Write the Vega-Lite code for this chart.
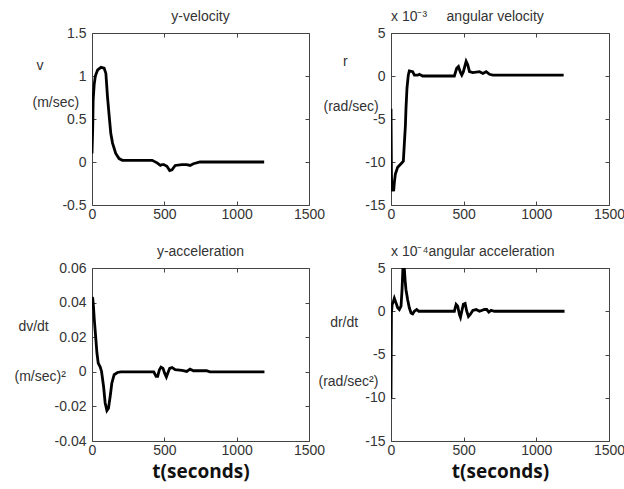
{
  "$schema": "https://vega.github.io/schema/vega-lite/v6.json",
  "background": "white",
  "autosize": {"type": "pad"},
  "padding": {"left": 13, "top": 9, "right": 0, "bottom": 0},
  "config": {
    "font": "Liberation Sans",
    "view": {"stroke": "#444", "strokeWidth": 1},
    "axis": {
      "grid": false, "domain": false, "tickSize": -4, "tickColor": "#444", "labelFlush": false,
      "labelFont": "Liberation Sans", "labelFontSize": 14, "labelColor": "#333", "labelPadding": 10,
      "titleFont": "Liberation Sans", "titleFontSize": 14, "titleFontWeight": "normal", "titleColor": "#333"
    },
    "axisX": {"labelPadding": 6, "labelFlush": false},
    "axisY": {"labelFlush": false},
    "title": {"font": "Liberation Sans", "fontSize": 14, "fontWeight": "normal", "color": "#333", "baseline": "alphabetic", "offset": 2, "frame": "group"}
  },
  "datasets": {
    "vel": [
      {"t": 0, "value": 0.1}, {"t": 5, "value": 0.4}, {"t": 8, "value": 0.72}, {"t": 15, "value": 0.9}, {"t": 23, "value": 1.0},
      {"t": 39, "value": 1.07}, {"t": 62, "value": 1.1}, {"t": 84, "value": 1.09}, {"t": 96, "value": 1.03}, {"t": 107, "value": 0.76},
      {"t": 119, "value": 0.53}, {"t": 130, "value": 0.33}, {"t": 142, "value": 0.22}, {"t": 164, "value": 0.1}, {"t": 187, "value": 0.04},
      {"t": 210, "value": 0.02}, {"t": 416, "value": 0.02}, {"t": 450, "value": -0.01}, {"t": 473, "value": -0.04}, {"t": 485, "value": -0.03},
      {"t": 496, "value": -0.03}, {"t": 518, "value": -0.05}, {"t": 537, "value": -0.1}, {"t": 553, "value": -0.09}, {"t": 575, "value": -0.04},
      {"t": 621, "value": -0.03}, {"t": 655, "value": -0.03}, {"t": 678, "value": -0.04}, {"t": 701, "value": -0.02}, {"t": 747, "value": 0.0},
      {"t": 1190, "value": 0.0}
    ],
    "angvel": [
      {"t": 0, "value": -3.8}, {"t": 3, "value": -11.4}, {"t": 6, "value": -13.4}, {"t": 12, "value": -13.0}, {"t": 18, "value": -13.4},
      {"t": 23, "value": -12.4}, {"t": 30, "value": -11.4}, {"t": 46, "value": -10.6}, {"t": 69, "value": -10.2}, {"t": 85, "value": -9.9},
      {"t": 92, "value": -7.8}, {"t": 99, "value": -5.8}, {"t": 103, "value": -3.8}, {"t": 110, "value": -1.4}, {"t": 119, "value": 0.1},
      {"t": 126, "value": 0.6}, {"t": 149, "value": 0.5}, {"t": 161, "value": 0.1}, {"t": 184, "value": 0.1}, {"t": 195, "value": 0.2},
      {"t": 218, "value": 0}, {"t": 436, "value": 0}, {"t": 452, "value": 0.9}, {"t": 464, "value": 1.1}, {"t": 478, "value": 0.4},
      {"t": 487, "value": 0.1}, {"t": 498, "value": 0.5}, {"t": 517, "value": 1.7}, {"t": 528, "value": 1.3}, {"t": 540, "value": 0.5},
      {"t": 563, "value": 0.4}, {"t": 609, "value": 0.5}, {"t": 632, "value": 0.3}, {"t": 655, "value": 0.5}, {"t": 678, "value": 0.2},
      {"t": 701, "value": 0.1}, {"t": 1188, "value": 0.1}
    ],
    "acc": [
      {"t": 0, "value": 0.043}, {"t": 5, "value": 0.0426}, {"t": 10, "value": 0.0378}, {"t": 16, "value": 0.03}, {"t": 20, "value": 0.026},
      {"t": 27, "value": 0.0185}, {"t": 34, "value": 0.011}, {"t": 43, "value": 0.005}, {"t": 57, "value": 0.0027}, {"t": 66, "value": 0.0002},
      {"t": 80, "value": -0.0085}, {"t": 91, "value": -0.018}, {"t": 103, "value": -0.0224}, {"t": 114, "value": -0.021}, {"t": 126, "value": -0.014},
      {"t": 137, "value": -0.0066}, {"t": 153, "value": -0.0017}, {"t": 176, "value": -0.0004}, {"t": 199, "value": 0}, {"t": 427, "value": 0},
      {"t": 443, "value": -0.0027}, {"t": 454, "value": -0.0027}, {"t": 466, "value": 0.0012}, {"t": 477, "value": 0.0027}, {"t": 491, "value": 0.002},
      {"t": 502, "value": -0.0008}, {"t": 514, "value": -0.003}, {"t": 525, "value": -0.0005}, {"t": 537, "value": 0.002}, {"t": 553, "value": 0.0025},
      {"t": 575, "value": 0.0012}, {"t": 621, "value": 0.0008}, {"t": 655, "value": 0.0002}, {"t": 678, "value": 0.0015}, {"t": 701, "value": 0.0006},
      {"t": 792, "value": 0.0006}, {"t": 815, "value": 0}, {"t": 1192, "value": 0}
    ],
    "angacc": [
      {"t": 0, "value": -10.1}, {"t": 1, "value": -6.0}, {"t": 3, "value": -0.2}, {"t": 8, "value": 0.8}, {"t": 16, "value": 1.1},
      {"t": 23, "value": 1.5}, {"t": 34, "value": 1.0}, {"t": 46, "value": 0.4}, {"t": 57, "value": 0.2}, {"t": 69, "value": 0.6},
      {"t": 76, "value": 2.5}, {"t": 83, "value": 5.4}, {"t": 90, "value": 5.4}, {"t": 97, "value": 3.6}, {"t": 103, "value": 2.5},
      {"t": 115, "value": 1.3}, {"t": 126, "value": 0.4}, {"t": 138, "value": -0.2}, {"t": 149, "value": -0.3}, {"t": 161, "value": 0},
      {"t": 177, "value": 0.2}, {"t": 191, "value": 0}, {"t": 436, "value": 0}, {"t": 448, "value": 0.8}, {"t": 459, "value": 0.6},
      {"t": 471, "value": -0.4}, {"t": 478, "value": -0.7}, {"t": 487, "value": 0}, {"t": 498, "value": 0.8}, {"t": 510, "value": 0.9},
      {"t": 521, "value": 0}, {"t": 533, "value": -0.6}, {"t": 544, "value": -0.4}, {"t": 563, "value": 0.1}, {"t": 586, "value": 0.2},
      {"t": 609, "value": 0}, {"t": 643, "value": 0.2}, {"t": 659, "value": 0.2}, {"t": 673, "value": -0.1}, {"t": 689, "value": 0.1},
      {"t": 712, "value": 0}, {"t": 1194, "value": 0}
    ]
  },
  "columns": 2,
  "spacing": {"row": 63, "column": 82},
  "bounds": "flush",
  "concat": [
    {
      "width": 217, "height": 172,
      "data": {"name": "vel"},
      "title": {"text": "y-velocity", "anchor": "middle"},
      "layer": [
        {
          "mark": {"type": "line", "color": "black", "strokeWidth": 2.8, "clip": true},
          "encoding": {
            "x": {"field": "t", "type": "quantitative", "scale": {"domain": [0, 1500], "nice": false, "zero": false},
                  "axis": {"orient": "bottom", "values": [0, 500, 1000, 1500], "title": null, "labelExpr": "datum.value + ''"}},
            "y": {"field": "value", "type": "quantitative", "scale": {"domain": [-0.5, 1.5], "nice": false, "zero": false},
                  "axis": {"orient": "left", "values": [-0.5, 0, 0.5, 1, 1.5], "labelExpr": "datum.value + ''",
                           "title": ["\u200b\u00a0v", "(m/sec)"], "titleAngle": 0, "titleAlign": "left", "titleBaseline": "alphabetic",
                           "titleX": -60, "titleY": 36, "titleLineHeight": 37}}
          }
        },
        {
          "mark": {"type": "line", "strokeOpacity": 0, "clip": true},
          "encoding": {
            "x": {"field": "t", "type": "quantitative", "scale": {"domain": [0, 1500], "nice": false, "zero": false}, "axis": {"orient": "top", "values": [0, 500, 1000, 1500], "labels": false, "title": null}},
            "y": {"field": "value", "type": "quantitative", "scale": {"domain": [-0.5, 1.5], "nice": false, "zero": false}, "axis": {"orient": "right", "values": [-0.5, 0, 0.5, 1, 1.5], "labels": false, "title": null}}
          }
        }
      ],
      "resolve": {"axis": {"x": "independent", "y": "independent"}}
    },
    {
      "width": 218, "height": 172,
      "data": {"name": "angvel"},
      "title": {"text": "x 10\u207b\u00b3\u00a0\u00a0\u00a0\u00a0\u00a0angular velocity", "anchor": "start"},
      "layer": [
        {
          "mark": {"type": "line", "color": "black", "strokeWidth": 2.8, "clip": true},
          "encoding": {
            "x": {"field": "t", "type": "quantitative", "scale": {"domain": [0, 1500], "nice": false, "zero": false},
                  "axis": {"orient": "bottom", "values": [0, 500, 1000, 1500], "title": null, "labelExpr": "datum.value + ''"}},
            "y": {"field": "value", "type": "quantitative", "scale": {"domain": [-15, 5], "nice": false, "zero": false},
                  "axis": {"orient": "left", "values": [-15, -10, -5, 0, 5], "labelExpr": "datum.value + ''",
                           "title": ["\u200b\u00a0\u00a0\u00a0\u00a0\u00a0r", "(rad/sec)"], "titleAngle": 0, "titleAlign": "left", "titleBaseline": "alphabetic",
                           "titleX": -68, "titleY": 32, "titleLineHeight": 45}}
          }
        },
        {
          "mark": {"type": "line", "strokeOpacity": 0, "clip": true},
          "encoding": {
            "x": {"field": "t", "type": "quantitative", "scale": {"domain": [0, 1500], "nice": false, "zero": false}, "axis": {"orient": "top", "values": [0, 500, 1000, 1500], "labels": false, "title": null}},
            "y": {"field": "value", "type": "quantitative", "scale": {"domain": [-15, 5], "nice": false, "zero": false}, "axis": {"orient": "right", "values": [-15, -10, -5, 0, 5], "labels": false, "title": null}}
          }
        }
      ],
      "resolve": {"axis": {"x": "independent", "y": "independent"}}
    },
    {
      "width": 217, "height": 173,
      "data": {"name": "acc"},
      "title": {"text": "y-acceleration", "anchor": "middle"},
      "layer": [
        {
          "mark": {"type": "line", "color": "black", "strokeWidth": 2.8, "clip": true},
          "encoding": {
            "x": {"field": "t", "type": "quantitative", "scale": {"domain": [0, 1500], "nice": false, "zero": false},
                  "axis": {"orient": "bottom", "values": [0, 500, 1000, 1500], "labelExpr": "datum.value + ''",
                           "title": "t(seconds)", "titleFont": "Open Sans", "titleFontSize": 19, "titleFontWeight": "bold", "titleColor": "#111", "titlePadding": 5}},
            "y": {"field": "value", "type": "quantitative", "scale": {"domain": [-0.04, 0.06], "nice": false, "zero": false},
                  "axis": {"orient": "left", "values": [-0.04, -0.02, 0, 0.02, 0.04, 0.06], "labelExpr": "datum.value + ''",
                           "title": ["\u200b\u00a0dv/dt", "(m/sec)\u00b2"], "titleAngle": 0, "titleAlign": "left", "titleBaseline": "alphabetic",
                           "titleX": -78, "titleY": 62, "titleLineHeight": 50}}
          }
        },
        {
          "mark": {"type": "line", "strokeOpacity": 0, "clip": true},
          "encoding": {
            "x": {"field": "t", "type": "quantitative", "scale": {"domain": [0, 1500], "nice": false, "zero": false}, "axis": {"orient": "top", "values": [0, 500, 1000, 1500], "labels": false, "title": null}},
            "y": {"field": "value", "type": "quantitative", "scale": {"domain": [-0.04, 0.06], "nice": false, "zero": false}, "axis": {"orient": "right", "values": [-0.04, -0.02, 0, 0.02, 0.04, 0.06], "labels": false, "title": null}}
          }
        }
      ],
      "resolve": {"axis": {"x": "independent", "y": "independent"}}
    },
    {
      "width": 218, "height": 173,
      "data": {"name": "angacc"},
      "title": {"text": "x 10\u207b\u2074angular acceleration", "anchor": "start"},
      "layer": [
        {
          "mark": {"type": "line", "color": "black", "strokeWidth": 2.8, "clip": true},
          "encoding": {
            "x": {"field": "t", "type": "quantitative", "scale": {"domain": [0, 1500], "nice": false, "zero": false},
                  "axis": {"orient": "bottom", "values": [0, 500, 1000, 1500], "labelExpr": "datum.value + ''",
                           "title": "t(seconds)", "titleFont": "Open Sans", "titleFontSize": 19, "titleFontWeight": "bold", "titleColor": "#111", "titlePadding": 5}},
            "y": {"field": "value", "type": "quantitative", "scale": {"domain": [-15, 5], "nice": false, "zero": false},
                  "axis": {"orient": "left", "values": [-15, -10, -5, 0, 5], "labelExpr": "datum.value + ''",
                           "title": ["\u200b\u00a0\u00a0\u00a0dr/dt", "(rad/sec\u00b2)"], "titleAngle": 0, "titleAlign": "left", "titleBaseline": "alphabetic",
                           "titleX": -73, "titleY": 58, "titleLineHeight": 59}}
          }
        },
        {
          "mark": {"type": "line", "strokeOpacity": 0, "clip": true},
          "encoding": {
            "x": {"field": "t", "type": "quantitative", "scale": {"domain": [0, 1500], "nice": false, "zero": false}, "axis": {"orient": "top", "values": [0, 500, 1000, 1500], "labels": false, "title": null}},
            "y": {"field": "value", "type": "quantitative", "scale": {"domain": [-15, 5], "nice": false, "zero": false}, "axis": {"orient": "right", "values": [-15, -10, -5, 0, 5], "labels": false, "title": null}}
          }
        }
      ],
      "resolve": {"axis": {"x": "independent", "y": "independent"}}
    }
  ]
}
